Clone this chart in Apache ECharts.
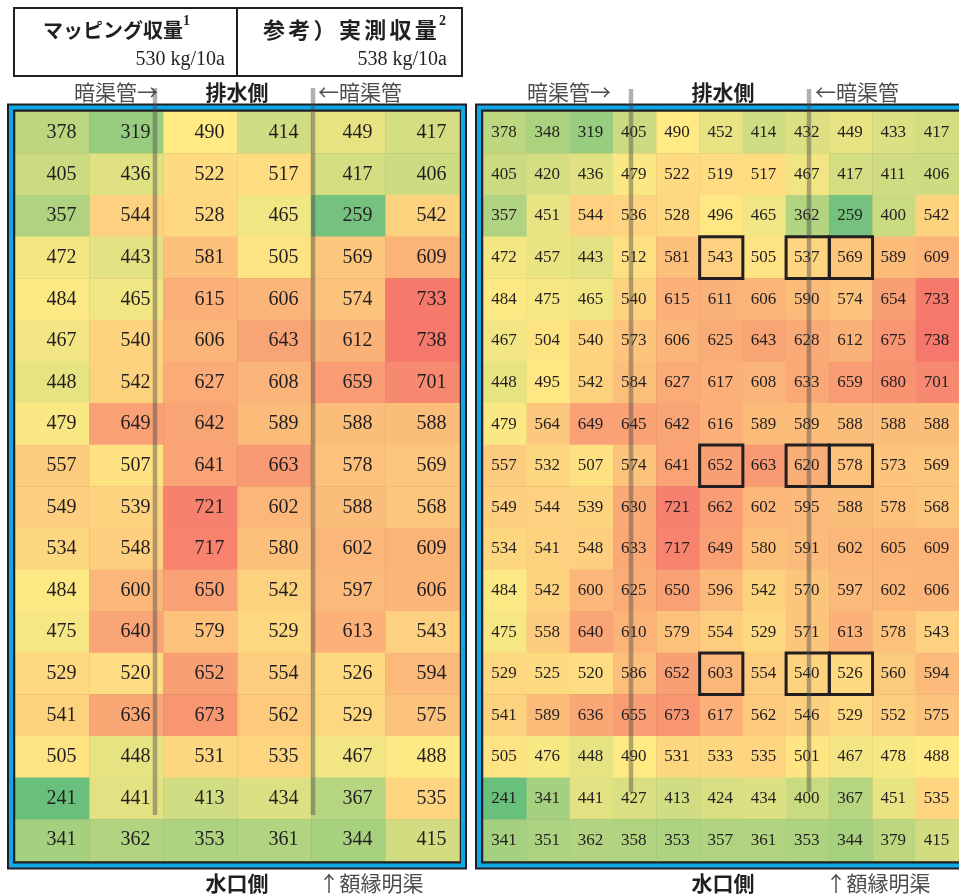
<!DOCTYPE html>
<html>
<head>
<meta charset="utf-8">
<title>収量マップ</title>
<script src="https://cdn.jsdelivr.net/npm/echarts@6/dist/echarts.min.js"></script>
<style>
  html, body { margin: 0; padding: 0; background: #ffffff; }
  #chart { width: 959px; height: 895px; }
</style>
</head>
<body>
<div id="chart"></div>
<script>
// Plot rows, top (排水側) to bottom (水口側)
const rowLabels = ['1','2','3','4','5','6','7','8','9','10','11','12','13','14','15','16','17','18'];
// Mapping yield grid columns
const mappedCols = ['A','B','C','D','E','F'];
// Measured yield grid columns
const measuredCols = ['1','2','3','4','5','6','7','8','9','10','11'];

// マッピング収量 (kg/10a), one row per plot row
const mappedRows = [
  [378, 319, 490, 414, 449, 417],
  [405, 436, 522, 517, 417, 406],
  [357, 544, 528, 465, 259, 542],
  [472, 443, 581, 505, 569, 609],
  [484, 465, 615, 606, 574, 733],
  [467, 540, 606, 643, 612, 738],
  [448, 542, 627, 608, 659, 701],
  [479, 649, 642, 589, 588, 588],
  [557, 507, 641, 663, 578, 569],
  [549, 539, 721, 602, 588, 568],
  [534, 548, 717, 580, 602, 609],
  [484, 600, 650, 542, 597, 606],
  [475, 640, 579, 529, 613, 543],
  [529, 520, 652, 554, 526, 594],
  [541, 636, 673, 562, 529, 575],
  [505, 448, 531, 535, 467, 488],
  [241, 441, 413, 434, 367, 535],
  [341, 362, 353, 361, 344, 415]
];

// 実測収量 (kg/10a), one row per plot row
const measuredRows = [
  [378, 348, 319, 405, 490, 452, 414, 432, 449, 433, 417],
  [405, 420, 436, 479, 522, 519, 517, 467, 417, 411, 406],
  [357, 451, 544, 536, 528, 496, 465, 362, 259, 400, 542],
  [472, 457, 443, 512, 581, 543, 505, 537, 569, 589, 609],
  [484, 475, 465, 540, 615, 611, 606, 590, 574, 654, 733],
  [467, 504, 540, 573, 606, 625, 643, 628, 612, 675, 738],
  [448, 495, 542, 584, 627, 617, 608, 633, 659, 680, 701],
  [479, 564, 649, 645, 642, 616, 589, 589, 588, 588, 588],
  [557, 532, 507, 574, 641, 652, 663, 620, 578, 573, 569],
  [549, 544, 539, 630, 721, 662, 602, 595, 588, 578, 568],
  [534, 541, 548, 633, 717, 649, 580, 591, 602, 605, 609],
  [484, 542, 600, 625, 650, 596, 542, 570, 597, 602, 606],
  [475, 558, 640, 610, 579, 554, 529, 571, 613, 578, 543],
  [529, 525, 520, 586, 652, 603, 554, 540, 526, 560, 594],
  [541, 589, 636, 655, 673, 617, 562, 546, 529, 552, 575],
  [505, 476, 448, 490, 531, 533, 535, 501, 467, 478, 488],
  [241, 341, 441, 427, 413, 424, 434, 400, 367, 451, 535],
  [341, 351, 362, 358, 353, 357, 361, 353, 344, 379, 415]
];

// Sampled cells outlined on the measured grid: [row index, column index]
const sampledCells = [
  [3, 5], [3, 7], [3, 8],
  [8, 5], [8, 7], [8, 8],
  [13, 5], [13, 7], [13, 8]
];

// Field averages (kg/10a)
const mappedAverage = 530;
const measuredAverage = 538;

const INK = '#231F20';
const FRAME_BLUE = '#0FA8E6';
const PIPE = 'rgba(70,70,70,0.42)';
const JP = '"Noto Sans CJK JP", "Noto Sans", sans-serif';
const SERIF = '"Liberation Serif", "DejaVu Serif", serif';

function toCells(rows) {
  const out = [];
  rows.forEach((row, r) => row.forEach((v, c) => out.push([c, r, v])));
  return out;
}

// Nested frame: dark outline, blue band, dark inner line
function frame(x, y, w, h) {
  return [
    { type: 'rect', z: -10, shape: { x: x, y: y, width: w, height: h }, style: { fill: INK } },
    { type: 'rect', z: -9, shape: { x: x + 2, y: y + 2, width: w - 4, height: h - 4 }, style: { fill: FRAME_BLUE } },
    { type: 'rect', z: -8, shape: { x: x + 6, y: y + 6, width: w - 12, height: h - 12 }, style: { fill: INK } }
  ];
}

function label(text, x, y, opts) {
  return {
    type: 'text', z: 50,
    style: Object.assign({
      text: text, x: x, y: y,
      textAlign: 'center', textVerticalAlign: 'middle',
      fontFamily: JP, fontSize: 21, fill: '#4d4d4d'
    }, opts || {})
  };
}

// Letter-spaced heading: one glyph per element at a fixed pitch
function spaced(text, x, y, pitch, opts) {
  return Array.from(text).map((ch, i) => label(ch, x + i * pitch, y, Object.assign({ textAlign: 'left' }, opts)));
}

function pipe(x, y1, y2) {
  return { type: 'line', z: 60, shape: { x1: x, y1: y1, x2: x, y2: y2 }, style: { stroke: PIPE, lineWidth: 4.5 } };
}

const headStyle = { fontWeight: 'bold', fontSize: 20, fill: INK };
const supStyle = { textAlign: 'left', fontFamily: SERIF, fontWeight: 'bold', fontSize: 14, fill: INK };

const graphics = [].concat(
  frame(7, 103.5, 460, 766),
  frame(475, 103.5, 500, 766),
  [
    // summary table
    { type: 'rect', z: 40, shape: { x: 14, y: 8, width: 448, height: 68 }, style: { fill: 'none', stroke: INK, lineWidth: 2 } },
    { type: 'line', z: 40, shape: { x1: 237, y1: 8, x2: 237, y2: 76 }, style: { stroke: INK, lineWidth: 2 } },
    label('マッピング収量', 43, 30, Object.assign({ textAlign: 'left' }, headStyle)),
    label('1', 183, 21, supStyle),
    label(mappedAverage + ' kg/10a', 225, 60, { textAlign: 'right', fontFamily: SERIF, fontSize: 20, fill: INK })
  ],
  spaced('参考）実測収量', 263, 30, 25.3, Object.assign({}, headStyle, { fontSize: 22 })),
  [
    label('2', 439, 21, supStyle),
    label(measuredAverage + ' kg/10a', 447, 60, { textAlign: 'right', fontFamily: SERIF, fontSize: 20, fill: INK }),

    // side captions, mapping grid
    label('暗渠管→', 116, 92),
    label('排水側', 237, 92, { fontWeight: 'bold', fill: INK }),
    label('←暗渠管', 360, 92),
    label('水口側', 237, 883, { fontWeight: 'bold', fill: INK }),
    label('↑額縁明渠', 371, 883),

    // side captions, measured grid
    label('暗渠管→', 569, 92),
    label('排水側', 723, 92, { fontWeight: 'bold', fill: INK }),
    label('←暗渠管', 857, 92),
    label('水口側', 723, 883, { fontWeight: 'bold', fill: INK }),
    label('↑額縁明渠', 878, 883),

    // drain pipes
    pipe(155, 88, 815),
    pipe(313, 88, 815),
    pipe(631, 89, 792),
    pipe(809, 89, 792)
  ]
);

const chart = echarts.init(document.getElementById('chart'), null, { renderer: 'canvas' });

chart.setOption({
  backgroundColor: '#ffffff',
  animation: false,
  grid: [
    { left: 15.5, top: 112, width: 444, height: 749 },
    { left: 483.5, top: 112, width: 477, height: 749 }
  ],
  xAxis: [
    { type: 'category', gridIndex: 0, data: mappedCols, show: false },
    { type: 'category', gridIndex: 1, data: measuredCols, show: false }
  ],
  yAxis: [
    { type: 'category', gridIndex: 0, data: rowLabels, inverse: true, show: false },
    { type: 'category', gridIndex: 1, data: rowLabels, inverse: true, show: false }
  ],
  visualMap: {
    show: false,
    seriesIndex: [0, 1],
    dimension: 2,
    min: 241,
    max: 738,
    inRange: { color: ['#69BF7C', '#FFEA84', '#F6786C'] }
  },
  graphic: { elements: graphics },
  series: [
    {
      name: 'マッピング収量',
      type: 'heatmap',
      xAxisIndex: 0, yAxisIndex: 0,
      data: toCells(mappedRows),
      label: {
        show: true, offset: [9, 0],
        formatter: p => String(p.value[2]),
        fontFamily: SERIF, fontSize: 20, color: INK
      },
      emphasis: { disabled: true }
    },
    {
      name: '実測収量',
      type: 'heatmap',
      xAxisIndex: 1, yAxisIndex: 1,
      data: toCells(measuredRows),
      label: {
        show: true, offset: [-1, 0],
        formatter: p => String(p.value[2]),
        fontFamily: SERIF, fontSize: 17, color: INK
      },
      emphasis: { disabled: true }
    },
    {
      name: '調査地点',
      type: 'custom',
      xAxisIndex: 1, yAxisIndex: 1,
      z: 5,
      encode: { x: 0, y: 1 },
      data: sampledCells.map(([r, c]) => [c, r]),
      renderItem: function (params, api) {
        const p = api.coord([api.value(0), api.value(1)]);
        const s = api.size([1, 1]);
        return {
          type: 'rect',
          shape: { x: p[0] - s[0] / 2, y: p[1] - s[1] / 2, width: s[0], height: s[1] },
          style: { fill: 'none', stroke: INK, lineWidth: 3 }
        };
      }
    }
  ]
});
</script>
</body>
</html>
